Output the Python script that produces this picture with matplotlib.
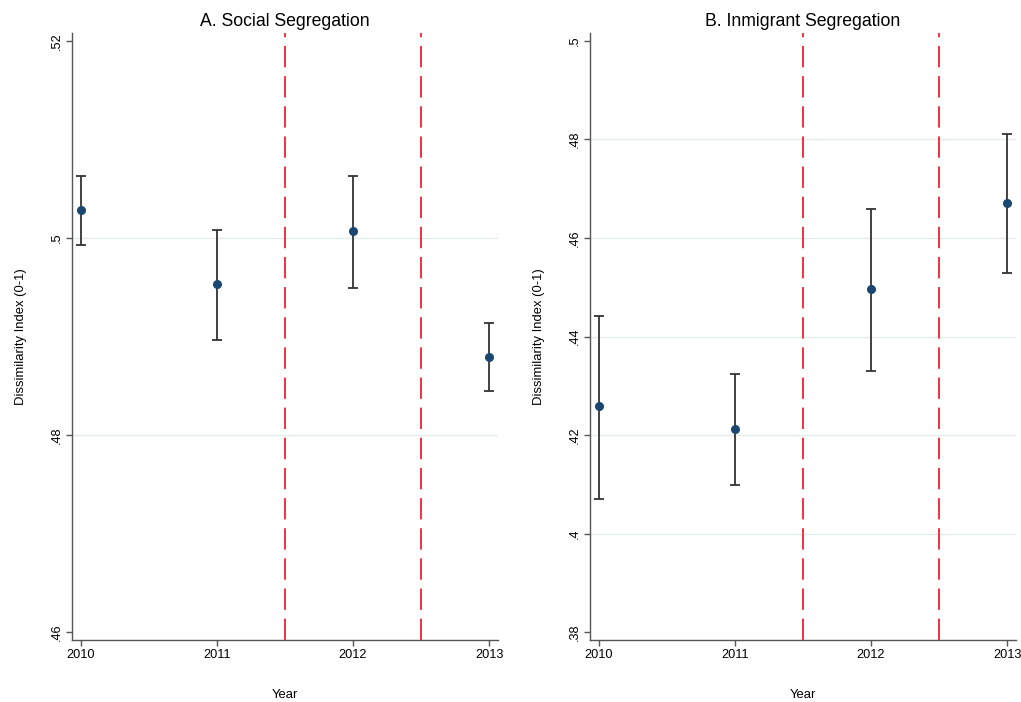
import matplotlib
matplotlib.use("Agg")
import matplotlib.pyplot as plt

plt.rcParams['font.family'] = ['Liberation Sans', 'DejaVu Sans']

years = [2010, 2011, 2012, 2013]

# Panel A: social segregation (point estimate and 95% CI)
social_est = [0.5028, 0.4953, 0.5007, 0.4879]
social_lo = [0.4993, 0.4896, 0.4949, 0.4845]
social_hi = [0.5063, 0.5008, 0.5063, 0.4914]
social_ticks = [0.46, 0.48, 0.50, 0.52]
social_ticklabels = ['.46', '.48', '.5', '.52']

# Panel B: immigrant segregation
immig_est = [0.4259, 0.4212, 0.4496, 0.4671]
immig_lo = [0.4071, 0.4098, 0.4329, 0.4528]
immig_hi = [0.4442, 0.4324, 0.4658, 0.4812]
immig_ticks = [0.38, 0.40, 0.42, 0.44, 0.46, 0.48, 0.50]
immig_ticklabels = ['.38', '.4', '.42', '.44', '.46', '.48', '.5']

policy_breaks = [2011.5, 2012.5]

titles = ['A. Social Segregation', 'B. Inmigrant Segregation']

W, H = 1021, 702
fig = plt.figure(figsize=(W / 100, H / 100), dpi=100)
fig.patch.set_facecolor('white')

ax_a = fig.add_axes([72 / W, (H - 640) / H, 426 / W, 607 / H])
ax_b = fig.add_axes([590 / W, (H - 640) / H, 426 / W, 607 / H])

panels = [
    (ax_a, social_est, social_lo, social_hi, social_ticks, social_ticklabels, (0.4592, 0.5208)),
    (ax_b, immig_est, immig_lo, immig_hi, immig_ticks, immig_ticklabels, (0.3784, 0.5016)),
]

navy = '#1a476f'
grid_col = '#e4edef'
spine_col = '#555555'

for (ax, est, lo, hi, ticks, tlabels, ylim), title in zip(panels, titles):
    # interior gridlines only
    for t in ticks[1:-1]:
        ax.axhline(t, color=grid_col, lw=1.0, zorder=0)
    for xb in policy_breaks:
        ax.axvline(xb, color='#f5303f', lw=1.4, dashes=(11, 4.5), zorder=1)
    yerr = [[e - l for e, l in zip(est, lo)], [h - e for e, h in zip(est, hi)]]
    ax.errorbar(years, est, yerr=yerr, fmt='none', ecolor='#333333',
                elinewidth=1.3, capsize=3.5, capthick=1.3, zorder=2)
    ax.plot(years, est, 'o', color=navy, markersize=5.5, zorder=3)

    ax.set_xlim(2009.935, 2013.065)
    ax.set_ylim(*ylim)
    ax.set_xticks(years)
    ax.set_xticklabels([str(y) for y in years], fontsize=9.2)
    ax.set_yticks(ticks)
    ax.set_yticklabels(tlabels, fontsize=9.2, rotation=90, va='center')

    for side in ('top', 'right'):
        ax.spines[side].set_visible(False)
    for side in ('left', 'bottom'):
        ax.spines[side].set_color(spine_col)
        ax.spines[side].set_linewidth(1.0)
    ax.tick_params(axis='both', color=spine_col, length=4.5, width=1.0,
                   labelcolor='black', pad=2)

    ax.set_title(title, fontsize=12.7, pad=5)
    ax.set_xlabel('Year', fontsize=9.4, labelpad=20)
    ax.set_ylabel('Dissimilarity Index (0-1)', fontsize=9.4, labelpad=17.5)

fig.savefig('out.png', dpi=100, facecolor='white')
